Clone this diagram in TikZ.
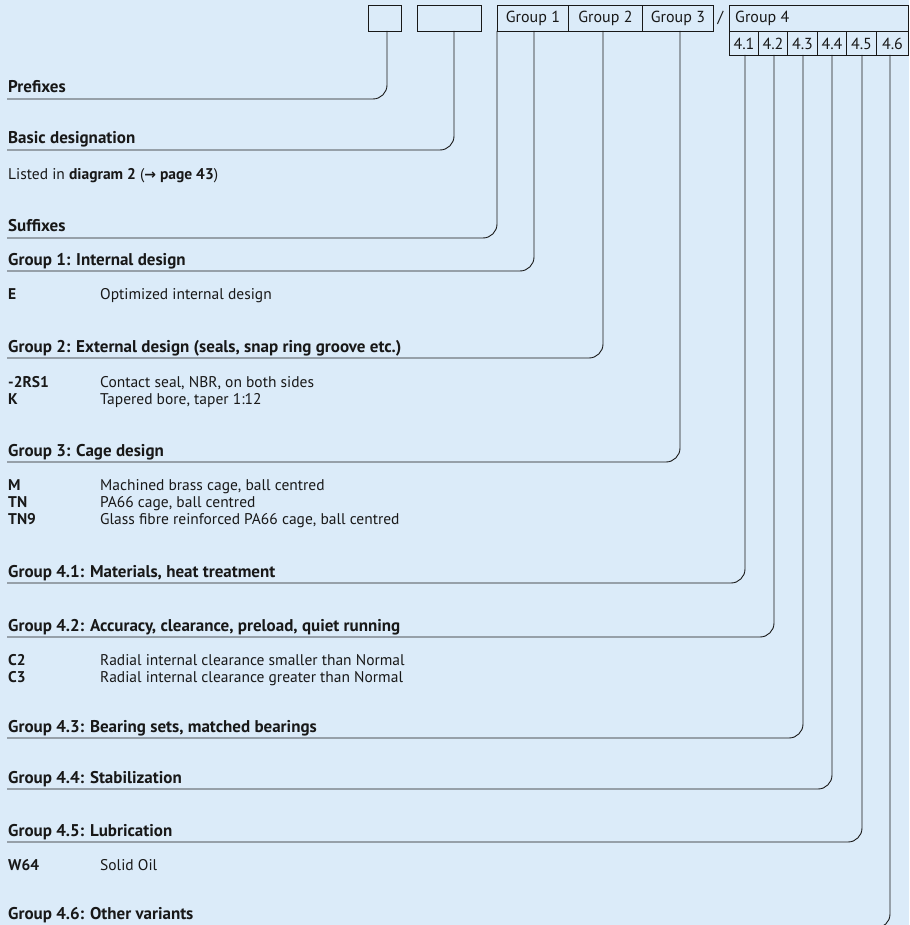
\documentclass[tikz,border=0pt]{standalone}
\usepackage{fontspec}
\setmainfont{PT Sans}
\newfontfamily\arrowfont{DejaVu Sans}
\definecolor{bg}{RGB}{219,235,249}
\definecolor{ink}{RGB}{24,24,24}
\begin{document}
\begin{tikzpicture}[x=1pt,y=-1pt,
  hbox/.style={draw=ink, line width=0.9pt, rectangle, inner sep=0pt, anchor=north west},
  conn/.style={draw=ink, line width=0.9pt, rounded corners=14pt},
  lbl/.style={anchor=base west, inner sep=0pt, font=\fontsize{17}{19}\selectfont\bfseries, text=ink},
  code/.style={anchor=base west, inner sep=0pt, font=\fontsize{15.5}{17}\selectfont\bfseries, text=ink},
  desc/.style={anchor=base west, inner sep=0pt, font=\fontsize{15.5}{17}\selectfont, text=ink},
  htxt/.style={inner sep=0pt, font=\fontsize{16}{18}\selectfont, text=ink}]
\fill[bg] (0,0) rectangle (909,925);
\useasboundingbox (0,0) rectangle (909,925);
% header boxes
\node[hbox, minimum width=33pt, minimum height=26pt] (pbox) at (368,5) {};
\node[hbox, minimum width=64pt, minimum height=26pt] (bbox) at (417,5) {};
\node[hbox, minimum width=71pt, minimum height=26pt] (g1) at (497,5) {};
\node[hbox, minimum width=74pt, minimum height=26pt] (g2) at (568,5) {};
\node[hbox, minimum width=71pt, minimum height=26pt] (g3) at (642,5) {};
\node[hbox, minimum width=179pt, minimum height=26pt] (g4) at (729,5) {};
\node[htxt] (t1) at (g1.center) {Group 1};
\node[htxt] (t2) at (g2.center) {Group 2};
\node[htxt] (t3) at (g3.center) {Group 3};
\node[htxt] (slash) at (720.5,18) {/};
\node[htxt, anchor=west] (t4) at (735,18) {Group 4};
\node[hbox, minimum width=29pt, minimum height=24pt] (s1) at (729,31) {};
\node[hbox, minimum width=29pt, minimum height=24pt] (s2) at (758,31) {};
\node[hbox, minimum width=30pt, minimum height=24pt] (s3) at (787,31) {};
\node[hbox, minimum width=29pt, minimum height=24pt] (s4) at (817,31) {};
\node[hbox, minimum width=30pt, minimum height=24pt] (s5) at (846,31) {};
\node[hbox, minimum width=32pt, minimum height=24pt] (s6) at (876,31) {};
\foreach \i/\t in {1/4.1,2/4.2,3/4.3,4/4.4,5/4.5,6/4.6}
  \node[htxt] (st\i) at (s\i.center) {\t};
% connector starts and ends
\coordinate (cp) at (387,31);  \coordinate (ep) at (7,99);
\coordinate (cb) at (454,31);  \coordinate (eb) at (7,150);
\coordinate (cs) at (497,31);  \coordinate (es) at (7,238);
\coordinate (c1) at (534,31);  \coordinate (e1) at (7,271);
\coordinate (c2) at (603,31);  \coordinate (e2) at (7,358);
\coordinate (c3) at (680,31);  \coordinate (e3) at (7,462);
\coordinate (c41) at (745,55); \coordinate (e41) at (7,583);
\coordinate (c42) at (774,55); \coordinate (e42) at (7,637);
\coordinate (c43) at (803,55); \coordinate (e43) at (7,738);
\coordinate (c44) at (832,55); \coordinate (e44) at (7,789);
\coordinate (c45) at (862,55); \coordinate (e45) at (7,842);
\coordinate (c46) at (890,55); \coordinate (e46) at (7,928);
\foreach \a/\b in {cp/ep,cb/eb,cs/es,c1/e1,c2/e2,c3/e3,c41/e41,c42/e42,c43/e43,c44/e44,c45/e45,c46/e46}
  \draw[conn] (\a) |- (\b);
% labels
\node[lbl] (lp) at (8,93) {Prefixes};
\node[lbl] (lb) at (8,144) {Basic designation};
\node[desc] (list) at (8,180) {Listed in \textbf{diagram 2} (\textbf{{\arrowfont\bfseries\fontsize{14}{16}\selectfont →} page 43})};
\node[lbl] (ls) at (8,232) {Suffixes};
\node[lbl] (l1) at (8,265) {Group 1: Internal design};
\node[code] (kE) at (8,299) {E};
\node[desc] (dE) at (100,299) {Optimized internal design};
\node[lbl] (l2) at (8,352) {Group 2: External design (seals, snap ring groove etc.)};
\node[code] (k2rs) at (8,387) {-2RS1};
\node[desc] (d2rs) at (100,387) {Contact seal, NBR, on both sides};
\node[code] (kK) at (8,404) {K};
\node[desc] (dK) at (100,404) {Tapered bore, taper 1:12};
\node[lbl] (l3) at (8,456) {Group 3: Cage design};
\node[code] (kM) at (8,490) {M};
\node[desc] (dM) at (100,490) {Machined brass cage, ball centred};
\node[code] (kTN) at (8,507) {TN};
\node[desc] (dTN) at (100,507) {PA66 cage, ball centred};
\node[code] (kTN9) at (8,524) {TN9};
\node[desc] (dTN9) at (100,524) {Glass fibre reinforced PA66 cage, ball centred};
\node[lbl] (l41) at (8,577) {Group 4.1: Materials, heat treatment};
\node[lbl] (l42) at (8,631) {Group 4.2: Accuracy, clearance, preload, quiet running};
\node[code] (kC2) at (8,665) {C2};
\node[desc] (dC2) at (100,665) {Radial internal clearance smaller than Normal};
\node[code] (kC3) at (8,682) {C3};
\node[desc] (dC3) at (100,682) {Radial internal clearance greater than Normal};
\node[lbl] (l43) at (8,732) {Group 4.3: Bearing sets, matched bearings};
\node[lbl] (l44) at (8,783) {Group 4.4: Stabilization};
\node[lbl] (l45) at (8,836) {Group 4.5: Lubrication};
\node[code] (kW) at (8,870) {W64};
\node[desc] (dW) at (100,870) {Solid Oil};
\node[lbl] (l46) at (8,919) {Group 4.6: Other variants};
\end{tikzpicture}
\end{document}
